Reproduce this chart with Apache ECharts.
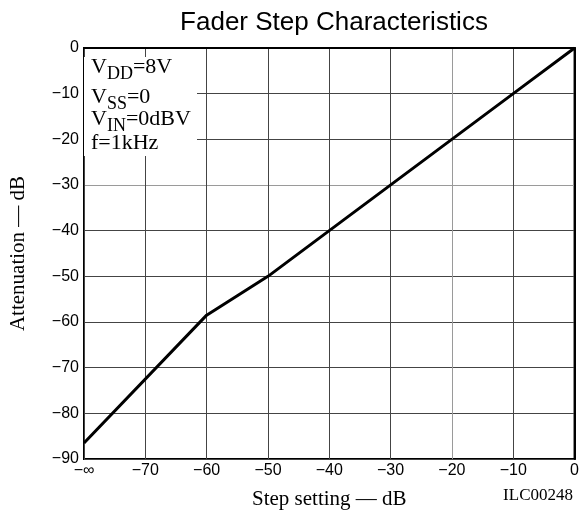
<!DOCTYPE html>
<html>
<head>
<meta charset="utf-8">
<script src="https://cdn.jsdelivr.net/npm/echarts@6/dist/echarts.min.js"></script>
<style>html,body{margin:0;padding:0;background:#fff;}#c{width:582px;height:515px;}</style>
</head>
<body>
<div id="c"></div>
<script>
var stepSetting = [-80, -60, -50, -40, -10, 0];
var attenuation = [-86.5, -58.5, -50, -40, -10, 0];
var xTicks = [-80, -70, -60, -50, -40, -30, -20, -10, 0];
var yTicks = [-90, -80, -70, -60, -50, -40, -30, -20, -10, 0];
var titleText = 'Fader Step Characteristics';
var xName = 'Step setting — dB';
var yName = 'Attenuation — dB';
var codeText = 'ILC00248';
var noteLines = [
  ['V', 'DD', '=8V'],
  ['V', 'SS', '=0'],
  ['V', 'IN', '=0dBV'],
  ['f=1kHz', '', '']
];

var chart = echarts.init(document.getElementById('c'), null, {renderer: 'canvas'});
var pts = stepSetting.map(function (x, i) { return [x, attenuation[i]]; });
function minus(v) { return String(v).replace('-', '−'); }
function fmtX(v) { return v === xTicks[0] ? '−∞' : minus(v); }
var serif = '"Liberation Serif", "Times New Roman", serif';
var sans = '"Liberation Sans", Arial, sans-serif';
var dark = '#444', light = '#9a9a9a';
var xColors = xTicks.map(function (v) { return v === -20 ? light : dark; });
var yColors = yTicks.map(function (v) { return v === -30 ? light : dark; });

var noteTops = [56, 86, 108, 132];
var noteGraphics = noteLines.map(function (ln, i) {
  var t = '{n|' + ln[0] + '}' + (ln[1] ? '{s|' + ln[1] + '}' : '') + (ln[2] ? '{n|' + ln[2] + '}' : '');
  return {
    type: 'text', left: 91, top: noteTops[i], z: 6,
    style: {
      text: t, fill: '#000',
      rich: {
        n: {fontFamily: serif, fontSize: 22, fill: '#000', lineHeight: 26, verticalAlign: 'bottom', padding: [0, 0, 5, 0]},
        s: {fontFamily: serif, fontSize: 18, fill: '#000', lineHeight: 26, verticalAlign: 'bottom'}
      }
    }
  };
});

chart.setOption({
  animation: false,
  backgroundColor: '#fff',
  title: {
    text: titleText, left: 329, textAlign: 'center', top: 5,
    textStyle: {fontFamily: sans, fontSize: 26, fontWeight: 'normal', color: '#000'}
  },
  grid: {left: 82, right: 5, top: 48, bottom: 56, show: true, borderColor: '#000', borderWidth: 2, backgroundColor: 'transparent'},
  xAxis: {
    type: 'value', min: -80, max: 0, interval: 10,
    axisLine: {show: true, lineStyle: {color: '#000', width: 2}},
    axisTick: {show: false},
    axisLabel: {formatter: fmtX, fontFamily: sans, fontSize: 16, color: '#000', margin: 4},
    splitLine: {show: true, lineStyle: {color: xColors, width: 1}},
    name: xName, nameLocation: 'middle', nameGap: 30,
    nameTextStyle: {fontFamily: serif, fontSize: 21, color: '#000'}
  },
  yAxis: {
    type: 'value', min: -90, max: 0, interval: 10,
    axisLine: {show: true, lineStyle: {color: '#000', width: 2}},
    axisTick: {show: false},
    axisLabel: {formatter: minus, fontFamily: sans, fontSize: 16, color: '#000', margin: 5},
    splitLine: {show: true, lineStyle: {color: yColors, width: 1}},
    name: yName, nameLocation: 'middle', nameGap: 55, nameRotate: 90,
    nameTextStyle: {fontFamily: serif, fontSize: 21, color: '#000'}
  },
  graphic: [
    {type: 'rect', left: 84, top: 57, shape: {width: 113, height: 99}, style: {fill: '#fff'}, z: 5}
  ].concat(noteGraphics).concat([
    {type: 'text', right: 9, top: 487, z: 6,
      style: {text: codeText, fontFamily: serif, fontSize: 17, fill: '#000'}}
  ]),
  series: [{
    type: 'line', data: pts, showSymbol: false, symbol: 'none',
    lineStyle: {color: '#000', width: 3}, z: 10
  }]
});
</script>
</body>
</html>
